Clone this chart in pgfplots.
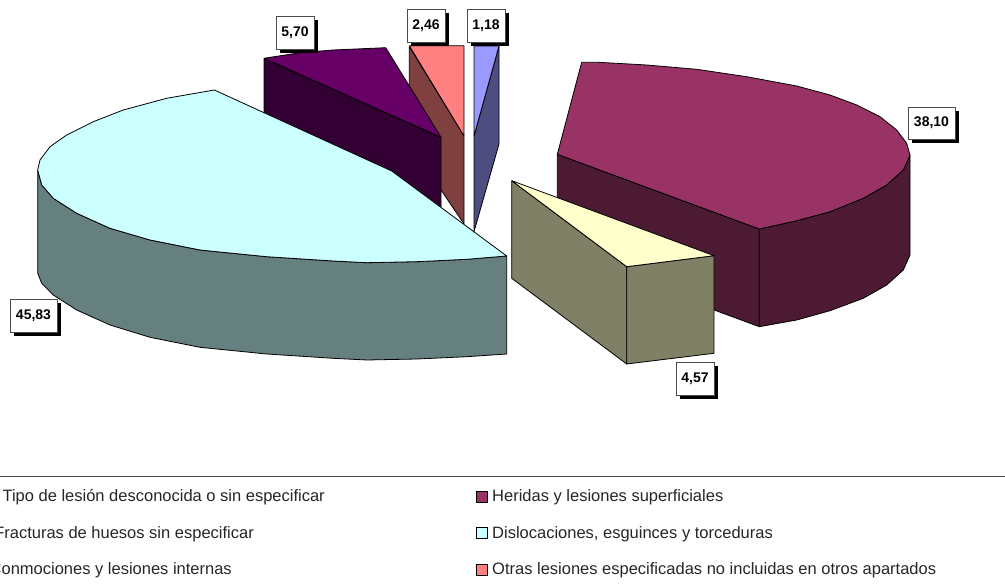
\documentclass[border=0pt]{standalone}
\usepackage{pgfplots}
\pgfplotsset{compat=1.18}
\usepackage{fontspec}
\setmainfont{Liberation Sans}
\definecolor{cytop}{HTML}{CCFFFF}\definecolor{cyside}{HTML}{668080}
\definecolor{putop}{HTML}{660066}\definecolor{puside}{HTML}{330033}
\definecolor{satop}{HTML}{FF8080}\definecolor{saside}{HTML}{804040}
\definecolor{bltop}{HTML}{9999FF}\definecolor{blside}{HTML}{4D4D80}
\definecolor{matop}{HTML}{993366}\definecolor{maside}{HTML}{4D1A33}
\definecolor{yetop}{HTML}{FFFFCC}\definecolor{yeside}{HTML}{808066}
\newcommand{\vlabel}[5]{%
  \fill[black] (axis cs:#1+4,#2+4) rectangle (axis cs:#3+4,#4+4);
  \filldraw[fill=white,draw=black!70,line width=0.6pt] (axis cs:#1,#2) rectangle (axis cs:#3,#4);
  \node[font=\fontsize{14}{16}\selectfont\bfseries,inner sep=0pt] at (axis cs:{(#1+#3)/2},{(#2+#4)/2}) {#5};
}
\newcommand{\lsq}[3]{%
  \addplot[fill=#3,draw=black,line width=0.8pt] coordinates {(#1,#2) (#1+11,#2) (#1+11,#2+11) (#1,#2+11) (#1,#2)};
}
\begin{document}
\begin{tikzpicture}
\path[use as bounding box,clip] (0,0) rectangle (1005pt,585pt);
\begin{axis}[at={(0,0)},anchor=south west,scale only axis,width=1005pt,height=585pt,
  xmin=0,xmax=1005,ymin=0,ymax=585,y dir=reverse,hide axis,clip=false,
  every axis plot/.append style={line join=round}]
% Heridas y lesiones superficiales 38,10
\addplot[fill=maside,draw=black,line width=0.8pt] coordinates {(557.3,154.3)(759.3,229)(759.3,326.7)(557.3,252)(557.3,154.3)};
\addplot[fill=maside,draw=black,line width=0.8pt] coordinates {(759.3,229)(796.7,220.7)(830,211.7)(863.3,198.3)(886.7,185)(903.3,170)(910,155)(910,255)(903.3,270)(886.7,285)(863.3,298.3)(830,310.7)(796.7,320)(759.3,326.7)(759.3,229)};
\addplot[fill=matop,draw=black,line width=0.8pt] coordinates {(581.7,62.3)(598.3,62.3)(646.7,65)(696.7,69.3)(746.7,76.7)(796.7,86)(830,95)(856.7,105)(880,116.7)(896.7,130)(906.7,143.3)(910,155)(903.3,170)(886.7,185)(863.3,198.3)(830,211.7)(796.7,220.7)(759.3,229)(557.3,154.3)(581.7,62.3)};
% Fracturas 4,57
\addplot[fill=yeside,draw=black,line width=0.8pt] coordinates {(511.7,180.7)(626.7,266.7)(626.7,364)(511.7,278.3)(511.7,180.7)};
\addplot[fill=yeside,draw=black,line width=0.8pt] coordinates {(626.7,266.7)(714,255.7)(714,353.3)(626.7,364)(626.7,266.7)};
\addplot[fill=yetop,draw=black,line width=0.8pt] coordinates {(511.7,180.7)(714,255.7)(626.7,266.7)(511.7,180.7)};
% Tipo de lesion 1,18
\addplot[fill=blside,draw=black,line width=0.8pt] coordinates {(499,46)(499,144)(474,231.7)(474,136)(499,46)};
\addplot[fill=bltop,draw=black,line width=0.8pt] coordinates {(474,46)(499,46)(474,136)(474,46)};
% Otras 2,46
\addplot[fill=saside,draw=black,line width=0.8pt] coordinates {(409.3,46.7)(464,136)(464,224)(409.3,143)(409.3,46.7)};
\addplot[fill=satop,draw=black,line width=0.8pt] coordinates {(409.3,45.7)(464,45.7)(464,136)(409.3,45.7)};
% Conmociones 5,70
\addplot[fill=puside,draw=black,line width=0.8pt] coordinates {(264,58.3)(441,137.3)(441,235)(264,156.7)(264,58.3)};
\addplot[fill=putop,draw=black,line width=0.8pt] coordinates {(264,58.3)(300,52.7)(333.3,50)(385.7,47.7)(441,137.3)(264,58.3)};
% Dislocaciones 45,83
\addplot[fill=cyside,draw=black,line width=0.8pt] coordinates {(37.7,170)(41.7,185)(53.3,198.3)(76.7,213.3)(110,228.3)(150,240)(200,250)(266.7,256.7)(333.3,261)(366.7,262.7)(416.7,261.7)(466.7,259.3)(506.7,256)(506.7,354)(466.7,356.7)(416.7,359)(366.7,360)(333.3,358.3)(266.7,354)(200,347.3)(150,337.3)(110,325)(76.7,310)(53.3,295)(41.7,283.3)(37.7,273.3)(37.7,170)};
\addplot[fill=cytop,draw=black,line width=0.8pt] coordinates {(214.3,90)(166.7,98.3)(123.3,110)(93.3,121.7)(66.7,135)(50,146.7)(40,160)(37.7,170)(41.7,185)(53.3,198.3)(76.7,213.3)(110,228.3)(150,240)(200,250)(266.7,256.7)(333.3,261)(366.7,262.7)(416.7,261.7)(466.7,259.3)(506.7,256)(391.7,171)(214.3,90)};
% data labels
\vlabel{276}{16}{314}{49}{5,70}
\vlabel{407}{9}{445}{42}{2,46}
\vlabel{467}{9}{505}{42}{1,18}
\vlabel{10}{299}{57}{332}{45,83}
\vlabel{908}{107}{955}{139}{38,10}
\vlabel{676}{362}{714}{395}{4,57}
% legend
\addplot[draw=black!70,line width=0.9pt] coordinates {(0,476.7)(1005,476.7)};
\lsq{476}{491}{matop}
\lsq{476}{527.5}{cytop}
\lsq{476}{564}{satop}
\begin{scope}[every node/.style={font=\fontsize{16.5}{18}\selectfont,inner sep=0pt,text=black!85}]
\node[anchor=base east] at (axis cs:325,501) {Tipo de lesión desconocida o sin especificar};
\node[anchor=base east] at (axis cs:254,538) {Fracturas de huesos sin especificar};
\node[anchor=base east] at (axis cs:232,574) {Conmociones y lesiones internas};
\node[anchor=base west] at (axis cs:492,501) {Heridas y lesiones superficiales};
\node[anchor=base west] at (axis cs:492,538) {Dislocaciones, esguinces y torceduras};
\node[anchor=base west] at (axis cs:492,574) {Otras lesiones especificadas no incluidas en otros apartados};
\end{scope}
\end{axis}
\end{tikzpicture}
\end{document}
